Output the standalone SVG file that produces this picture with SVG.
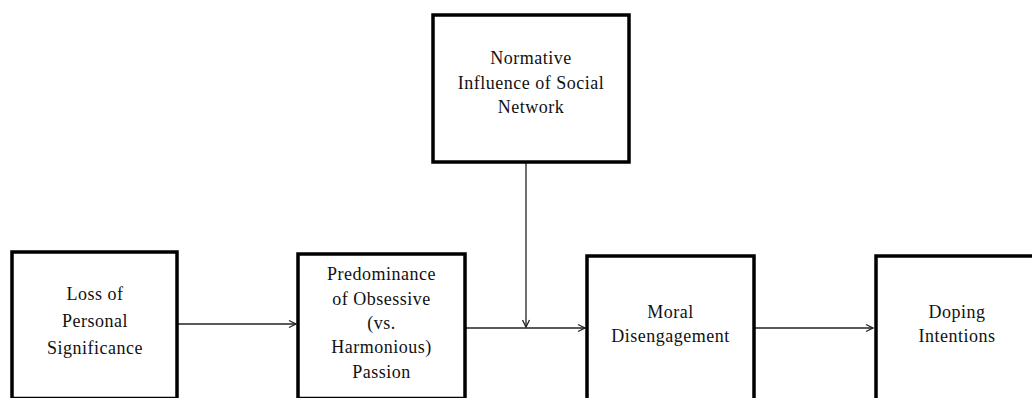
<svg xmlns="http://www.w3.org/2000/svg" width="1032" height="398" viewBox="0 0 1032 398">
<defs>
<style>
.box{fill:#fff;stroke:#000;stroke-width:3.5}
.t{font-family:'Liberation Serif','DejaVu Serif','Times New Roman',Times,serif;font-size:18px;fill:#111;text-anchor:middle;letter-spacing:0.5px}
.c{stroke:#222;stroke-width:1.3;fill:none}
</style>
<marker id="ah" markerWidth="10" markerHeight="10" refX="8" refY="5" orient="auto" markerUnits="userSpaceOnUse">
<path d="M1,1.5 L8,5 L1,8.5" fill="none" stroke="#222" stroke-width="1.3"/>
</marker>
</defs>
<rect width="1032" height="398" fill="#fff"/>
<g id="connectors">
<line class="c" x1="178" y1="324" x2="296" y2="324" marker-end="url(#ah)"/>
<line class="c" x1="466" y1="328" x2="585" y2="328" marker-end="url(#ah)"/>
<line class="c" x1="755" y1="328" x2="873" y2="328" marker-end="url(#ah)"/>
<line class="c" x1="526" y1="163" x2="526" y2="327" marker-end="url(#ah)"/>
</g>
<g id="node-normative">
<rect class="box" x="433" y="15" width="196" height="147"/>
<text class="t" x="531" y="64">Normative</text>
<text class="t" x="531" y="89">Influence  of Social</text>
<text class="t" x="531" y="113">Network</text>
</g>
<g id="node-loss">
<rect class="box" x="12" y="252" width="165" height="146.5"/>
<text class="t" x="95" y="300">Loss of</text>
<text class="t" x="95" y="327">Personal</text>
<text class="t" x="95" y="354">Significance</text>
</g>
<g id="node-passion">
<rect class="box" x="298" y="254" width="167" height="144.5"/>
<text class="t" x="381.5" y="280">Predominance</text>
<text class="t" x="381.5" y="305">of Obsessive</text>
<text class="t" x="381.5" y="329">(vs.</text>
<text class="t" x="381.5" y="353">Harmonious)</text>
<text class="t" x="381.5" y="378">Passion</text>
</g>
<g id="node-moral">
<rect class="box" x="587" y="256" width="167" height="160"/>
<text class="t" x="670.5" y="318">Moral</text>
<text class="t" x="670.5" y="342">Disengagement</text>
</g>
<g id="node-doping">
<rect class="box" x="876" y="256" width="165" height="160"/>
<text class="t" x="957" y="318">Doping</text>
<text class="t" x="957" y="342">Intentions</text>
</g>
</svg>
